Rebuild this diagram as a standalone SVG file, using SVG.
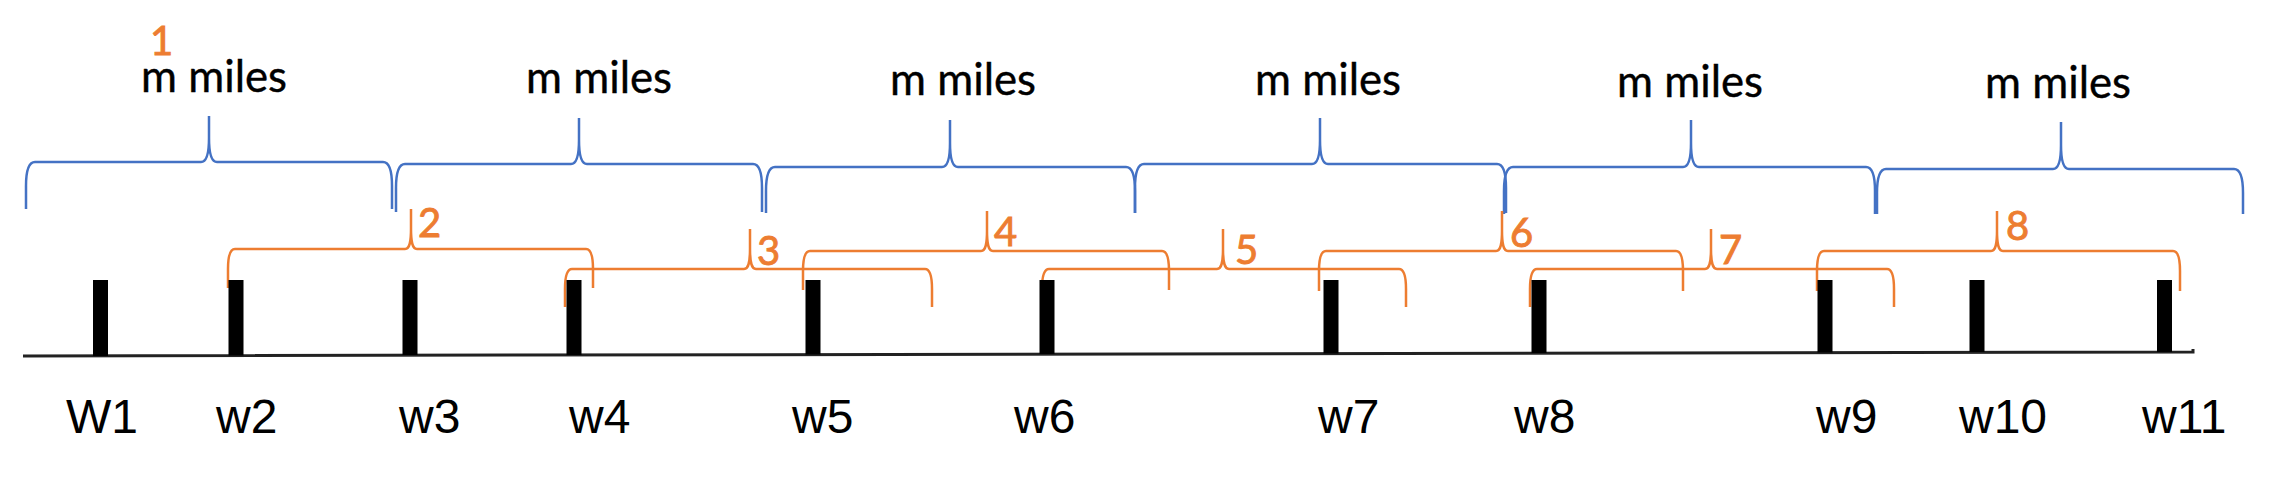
<svg xmlns="http://www.w3.org/2000/svg" width="2292" height="496" viewBox="0 0 2292 496">
<style>
.blue{fill:none;stroke:#4472C4;stroke-width:2.5;stroke-linejoin:round}
.orange{fill:none;stroke:#ED7D31;stroke-width:2.5;stroke-linejoin:round}
.miles{font-family:Lato,"Open Sans",sans-serif;font-size:45px;fill:#000;stroke:#000;stroke-width:0.4;text-anchor:middle}
.num{font-family:Lato,"Open Sans",sans-serif;font-size:40px;fill:#ED7D31;stroke:#ED7D31;stroke-width:0.9}
.wl{font-family:"Liberation Sans",Arial,sans-serif;font-size:48px;fill:#000}
.bar{fill:#000}
</style>
<rect width="2292" height="496" fill="#fff"/>
<g id="connectors">
<path d="M23,356 L2193,352 L2193,349" fill="none" stroke="#222" stroke-width="3"/>
</g>
<g id="blue-braces">
<g id="span-1"><path class="blue" d="M26,209 L26,186 C26,170 29,162 35,162 L201,162 C207,162 209,152 209,138 L209,116 M209,138 C209,152 211,162 217,162 L383,162 C389,162 392,170 392,186 L392,209"/><text class="miles" x="214" y="92" textLength="146" lengthAdjust="spacingAndGlyphs">m miles</text></g>
<g id="span-2"><path class="blue" d="M396,212 L396,188 C396,172 399,164 405,164 L571,164 C577,164 579,154 579,140 L579,118 M579,140 C579,154 581,164 587,164 L753,164 C759,164 762,172 762,188 L762,212"/><text class="miles" x="599" y="93" textLength="146" lengthAdjust="spacingAndGlyphs">m miles</text></g>
<g id="span-3"><path class="blue" d="M766,213 L766,191 C766,175 769,167 775,167 L942,167 C948,167 950,157 950,143 L950,120 M950,143 C950,157 952,167 958,167 L1126,167 C1132,167 1135,175 1135,191 L1135,213"/><text class="miles" x="963" y="95" textLength="146" lengthAdjust="spacingAndGlyphs">m miles</text></g>
<g id="span-4"><path class="blue" d="M1135,213 L1135,188 C1135,172 1138,164 1144,164 L1312,164 C1318,164 1320,154 1320,140 L1320,118 M1320,140 C1320,154 1322,164 1328,164 L1497,164 C1503,164 1506,172 1506,188 L1506,213"/><text class="miles" x="1328" y="95" textLength="146" lengthAdjust="spacingAndGlyphs">m miles</text></g>
<g id="span-5"><path class="blue" d="M1504,214 L1504,191 C1504,175 1507,167 1513,167 L1683,167 C1689,167 1691,157 1691,143 L1691,120 M1691,143 C1691,157 1693,167 1699,167 L1866,167 C1872,167 1875,175 1875,191 L1875,214"/><text class="miles" x="1690" y="97" textLength="146" lengthAdjust="spacingAndGlyphs">m miles</text></g>
<g id="span-6"><path class="blue" d="M1877,214 L1877,193 C1877,177 1880,169 1886,169 L2053,169 C2059,169 2061,159 2061,145 L2061,122 M2061,145 C2061,159 2063,169 2069,169 L2234,169 C2240,169 2243,177 2243,193 L2243,214"/><text class="miles" x="2058" y="98" textLength="146" lengthAdjust="spacingAndGlyphs">m miles</text></g>
</g>
<g id="orange-braces">
<text id="num-1" class="num" x="150" y="55">1</text>
<g id="window-2"><path class="orange" d="M228,288 L228,269 C228,256 230,249 235,249 L405,249 C410,249 411,241 411,229 L411,209 M411,229 C411,241 412,249 417,249 L586,249 C591,249 593,256 593,269 L593,288"/><text class="num" x="418" y="237">2</text></g>
<g id="window-3"><path class="orange" d="M565,307 L565,289 C565,276 567,269 572,269 L744,269 C749,269 750,261 750,249 L750,229 M750,249 C750,261 751,269 756,269 L925,269 C930,269 932,276 932,289 L932,307"/><text class="num" x="757" y="265">3</text></g>
<g id="window-4"><path class="orange" d="M803,290 L803,271 C803,258 805,251 810,251 L981,251 C986,251 987,243 987,231 L987,211 M987,231 C987,243 988,251 993,251 L1162,251 C1167,251 1169,258 1169,271 L1169,290"/><text class="num" x="994" y="246">4</text></g>
<g id="window-5"><path class="orange" d="M1042,307 L1042,289 C1042,276 1044,269 1049,269 L1217,269 C1222,269 1223,261 1223,249 L1223,229 M1223,249 C1223,261 1224,269 1229,269 L1399,269 C1404,269 1406,276 1406,289 L1406,307"/><text class="num" x="1235" y="264">5</text></g>
<g id="window-6"><path class="orange" d="M1319,291 L1319,271 C1319,258 1321,251 1326,251 L1496,251 C1501,251 1502,243 1502,231 L1502,211 M1502,231 C1502,243 1503,251 1508,251 L1676,251 C1681,251 1683,258 1683,271 L1683,291"/><text class="num" x="1510" y="247">6</text></g>
<g id="window-7"><path class="orange" d="M1530,307 L1530,289 C1530,276 1532,269 1537,269 L1705,269 C1710,269 1711,261 1711,249 L1711,229 M1711,249 C1711,261 1712,269 1717,269 L1887,269 C1892,269 1894,276 1894,289 L1894,307"/><text class="num" x="1719" y="264">7</text></g>
<g id="window-8"><path class="orange" d="M1817,291 L1817,271 C1817,258 1819,251 1824,251 L1991,251 C1996,251 1997,243 1997,231 L1997,211 M1997,231 C1997,243 1998,251 2003,251 L2173,251 C2178,251 2180,258 2180,271 L2180,291"/><text class="num" x="2006" y="240">8</text></g>
</g>
<g id="w1"><rect class="bar" x="93" y="280" width="15" height="76"/><text class="wl" x="66" y="433">W1</text></g>
<g id="w2"><rect class="bar" x="228.5" y="280" width="15" height="75.5"/><text class="wl" x="216" y="433">w2</text></g>
<g id="w3"><rect class="bar" x="402.5" y="280" width="15" height="75"/><text class="wl" x="399" y="433">w3</text></g>
<g id="w4"><rect class="bar" x="566.5" y="280" width="15" height="75"/><text class="wl" x="569" y="433">w4</text></g>
<g id="w5"><rect class="bar" x="805.5" y="280" width="15" height="74.5"/><text class="wl" x="792" y="433">w5</text></g>
<g id="w6"><rect class="bar" x="1039.5" y="280" width="15" height="74"/><text class="wl" x="1014" y="433">w6</text></g>
<g id="w7"><rect class="bar" x="1323.5" y="280" width="15" height="73.5"/><text class="wl" x="1318" y="433">w7</text></g>
<g id="w8"><rect class="bar" x="1531.5" y="280" width="15" height="73"/><text class="wl" x="1514" y="433">w8</text></g>
<g id="w9"><rect class="bar" x="1817.5" y="280" width="15" height="72.5"/><text class="wl" x="1816" y="433">w9</text></g>
<g id="w10"><rect class="bar" x="1969.5" y="280" width="15" height="72"/><text class="wl" x="1959" y="433">w10</text></g>
<g id="w11"><rect class="bar" x="2157" y="280" width="15" height="72"/><text class="wl" x="2142" y="433">w11</text></g>
</svg>
